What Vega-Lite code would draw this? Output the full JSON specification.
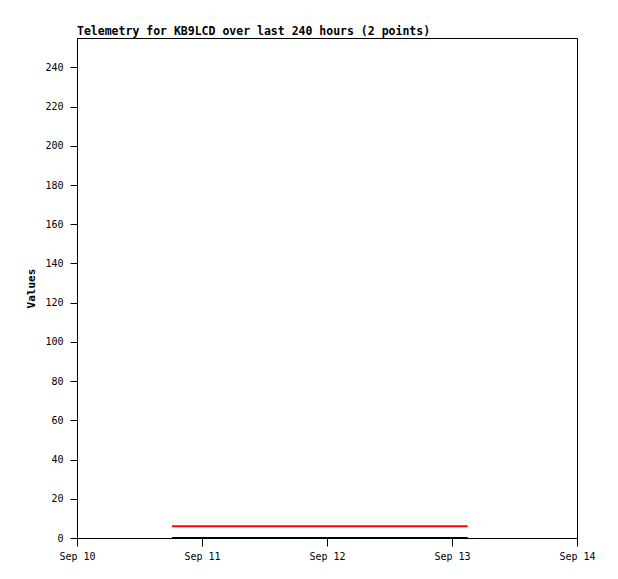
{
  "$schema": "https://vega.github.io/schema/vega-lite/v6.json",
  "width": 500,
  "height": 500,
  "autosize": "none",
  "padding": {"left": 77, "top": 38, "right": 41, "bottom": 41},
  "background": "white",
  "config": {
    "view": {"stroke": "black", "strokeWidth": 1},
    "font": "DejaVu Sans Mono"
  },
  "title": {
    "text": "Telemetry for KB9LCD over last 240 hours (2 points)",
    "anchor": "start",
    "frame": "group",
    "font": "DejaVu Sans Mono",
    "fontSize": 11.5,
    "fontWeight": "bold",
    "color": "black",
    "offset": 1
  },
  "data": {
    "values": [
      {"series": "B", "time": "2023-09-10T18:15:00Z", "value": 0},
      {"series": "B", "time": "2023-09-13T03:00:00Z", "value": 0},
      {"series": "A", "time": "2023-09-10T18:15:00Z", "value": 6},
      {"series": "A", "time": "2023-09-13T03:00:00Z", "value": 6}
    ]
  },
  "mark": {"type": "line", "strokeWidth": 2, "clip": true},
  "encoding": {
    "x": {
      "field": "time",
      "type": "temporal",
      "scale": {"type": "utc", "domain": ["2023-09-10T00:00:00Z", "2023-09-14T00:00:00Z"]},
      "axis": {
        "title": null,
        "format": "%b %d",
        "tickCount": {"interval": "day", "step": 1},
        "grid": false,
        "domainColor": "black",
        "tickColor": "black",
        "tickSize": 8,
        "labelColor": "black",
        "labelFont": "DejaVu Sans Mono",
        "labelFontSize": 10,
        "labelPadding": 5,
        "labelFlush": false,
        "labelOverlap": false
      }
    },
    "y": {
      "field": "value",
      "type": "quantitative",
      "scale": {"domain": [0, 255], "nice": false, "zero": true},
      "axis": {
        "title": "Values",
        "titleFont": "DejaVu Sans Mono",
        "titleFontSize": 11,
        "titleFontWeight": "bold",
        "titleColor": "black",
        "titlePadding": 8,
        "values": [0, 20, 40, 60, 80, 100, 120, 140, 160, 180, 200, 220, 240],
        "grid": false,
        "domainColor": "black",
        "tickColor": "black",
        "tickSize": 7,
        "labelColor": "black",
        "labelFont": "DejaVu Sans Mono",
        "labelFontSize": 10,
        "labelPadding": 7
      }
    },
    "color": {
      "field": "series",
      "type": "nominal",
      "scale": {"domain": ["A", "B"], "range": ["#ff0000", "#000000"]},
      "legend": null
    }
  }
}
